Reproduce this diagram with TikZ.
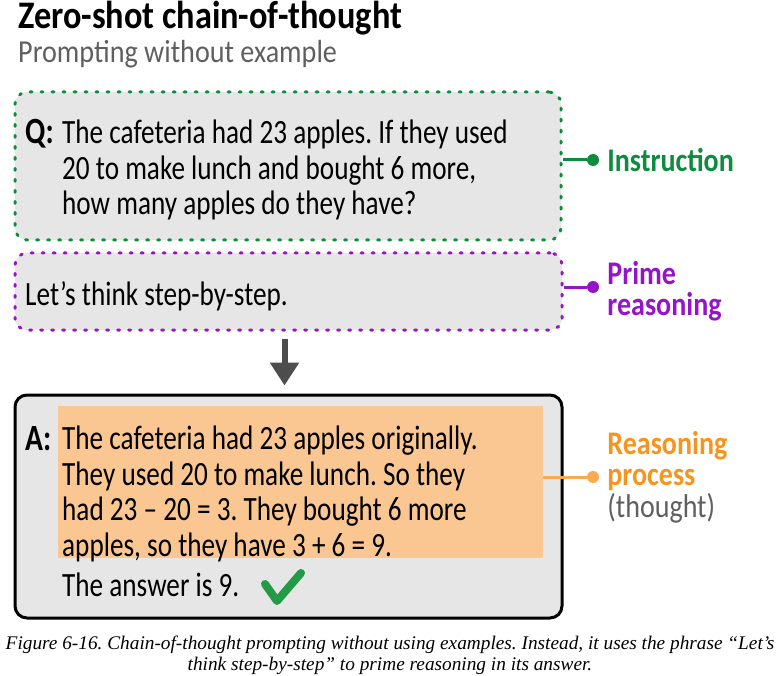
\documentclass[tikz,border=0pt]{standalone}
\usepackage{fontspec}
\setmainfont{Carlito}
\newfontfamily\bodyfont[FakeStretch=0.8]{Carlito}
\newfontfamily\tagfont[FakeStretch=0.85]{Carlito}
\newfontfamily\headfont[FakeStretch=0.88]{Carlito}
\newfontfamily\capfont{Liberation Serif}
\usepackage{xcolor}
\usepackage{tikz}
\usetikzlibrary{arrows.meta, positioning, calc}
\frenchspacing
\definecolor{boxgray}{RGB}{230,230,230}
\definecolor{instgreen}{RGB}{14,140,62}
\definecolor{primepurple}{RGB}{150,20,200}
\definecolor{reasonorange}{RGB}{247,148,30}
\definecolor{reasonline}{RGB}{250,170,80}
\definecolor{hilite}{RGB}{250,198,145}
\definecolor{arrowgray}{RGB}{77,77,77}
\definecolor{subgray}{RGB}{95,95,95}
\definecolor{checkgreen}{RGB}{35,155,70}
\tikzstyle{promptbox} = [rectangle, rounded corners=12pt, fill=boxgray, inner sep=0pt]
\tikzstyle{dotborder} = [line width=3pt, dash pattern=on 2pt off 9pt, line cap=round]
\tikzstyle{bodytext} = [anchor=north west, inner sep=0pt, align=left, font=\bodyfont\fontsize{34}{35.5}\selectfont]
\tikzstyle{tagtext} = [anchor=west, inner sep=0pt, align=left, font=\tagfont\bfseries\fontsize{33}{31.5}\selectfont]
\tikzstyle{tagdot} = [circle, inner sep=0pt, minimum size=12pt]
\tikzstyle{tagline} = [line width=3pt]
\tikzstyle{bigarrow} = [line width=6pt, arrowgray, -{Triangle[width=28pt,length=23pt]}]

\begin{document}
\begin{tikzpicture}[x=1pt, y=-1pt, node distance=8pt]
  \useasboundingbox (0,0) rectangle (781,676);
  % heading
  \node (title) [anchor=base west, inner sep=0pt, font=\headfont\bfseries\fontsize{39}{39}\selectfont] at (18,29) {Zero-shot chain-of-thought};
  \node (subtitle) [anchor=base west, inner sep=0pt, text=subgray, font=\headfont\fontsize{32}{32}\selectfont] at (18,63) {Prompting without example};

  % boxes
  \node (qbox) [promptbox, dotborder, draw=instgreen, minimum width=546pt, minimum height=148pt] at (288,166) {};
  \node (primebox) [promptbox, dotborder, draw=primepurple, minimum width=547pt, minimum height=77pt] at (288.5,291.5) {};
  \node (abox) [promptbox, draw=black, line width=3pt, minimum width=547pt, minimum height=223pt] at (288.5,506.5) {};
  \node (hilite) [rectangle, fill=hilite, inner sep=0pt, minimum width=485pt, minimum height=152pt] at (300.5,482) {};

  % texts
  \node (qtag) [anchor=base west, inner sep=0pt, font=\bodyfont\bfseries\fontsize{37}{37}\selectfont] at (25,144) {Q:};
  \node (qtext) [bodytext] at (62,120) {The cafeteria had 23 apples. If they used\\20 to make lunch and bought 6 more,\\how many apples do they have?};
  \node (primetext) [anchor=base west, inner sep=0pt, font=\bodyfont\fontsize{34}{34}\selectfont] at (25,305) {Let’s think step-by-step.};
  \node (atag) [anchor=base west, inner sep=0pt, font=\bodyfont\bfseries\fontsize{37}{37}\selectfont] at (25,450) {A:};
  \node (atext) [bodytext] at (62,426) {The cafeteria had 23 apples originally.\\They used 20 to make lunch. So they\\had 23 – 20 = 3. They bought 6 more\\apples, so they have 3 + 6 = 9.};
  \node (answer) [anchor=base west, inner sep=0pt, font=\bodyfont\fontsize{34}{34}\selectfont] at (62,596) {The answer is 9.};
  \draw[checkgreen, line width=8pt, line cap=round, line join=round] (265,584) -- (277,601) -- (301,573);

  % arrow
  \draw[bigarrow] ([xshift=-4pt]primebox.south) ++(0,7) -- ([xshift=-4pt,yshift=8pt]abox.north);

  % tags on the right
  \node (instdot) [tagdot, fill=instgreen] at (593,160) {};
  \node (insttag) [tagtext, text=instgreen, right=of instdot] {Instruction};
  \draw[tagline, instgreen] (instdot) -- (instdot -| qbox.east);

  \node (primedot) [tagdot, fill=primepurple] at (593,287) {};
  \node (primetag) [tagtext, text=primepurple, right=of primedot, yshift=-4pt] {Prime\\reasoning};
  \draw[tagline, primepurple] (primedot) -- (primedot -| primebox.east);

  \node (reasondot) [tagdot, fill=reasonline] at (593,477) {};
  \node (reasontag) [tagtext, text=reasonorange, right=of reasondot] {Reasoning\\process\\\textcolor{subgray}{\mdseries(thought)}};
  \draw[tagline, reasonline] (reasondot) -- (reasondot -| hilite.east);

  % caption
  \node (caption) [align=center, inner sep=0pt, font=\capfont\itshape\fontsize{19.3}{21}\selectfont] at (390,655) {Figure 6-16. Chain-of-thought prompting without using examples. Instead, it uses the phrase “Let’s\\think step-by-step” to prime reasoning in its answer.};
\end{tikzpicture}
\end{document}
